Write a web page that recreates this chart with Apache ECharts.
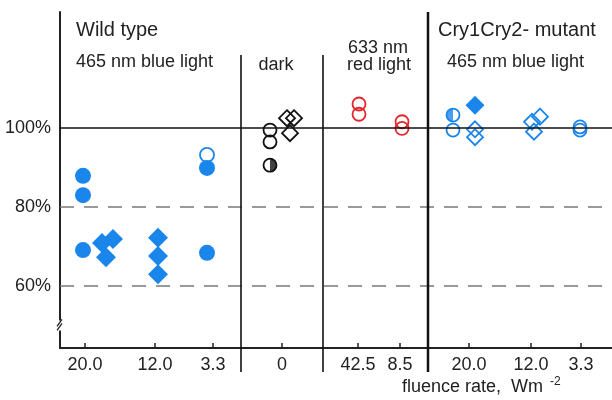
<!DOCTYPE html>
<html>
<head>
<meta charset="utf-8">
<script src="https://cdn.jsdelivr.net/npm/echarts@6/dist/echarts.min.js"></script>
<style>html,body{margin:0;padding:0;background:#fff}#c{width:612px;height:400px}</style>
</head>
<body>
<div id="c"></div>
<script>
// ---- data ----
const xTicks = [25, 95, 153, 222, 298, 340, 409, 471, 521];
const xTickLabels = ['20.0', '12.0', '3.3', '0', '42.5', '8.5', '20.0', '12.0', '3.3'];
const yTickValues = [60, 80, 100];
const refLineValue = 100;
const dashedValues = [80, 60];
const separatorX = [181, 263, 368];
const separatorTop = [118.5, 118.5, 129.4];
const breakValue = 50;

const wtFilledCircleX = [23, 23, 23, 147, 147];
const wtFilledCircleY = [87.9, 83.0, 69.1, 89.9, 68.4];
const wtOpenCircleX = [147];
const wtOpenCircleY = [93.2];
const wtDiamondX = [42, 53, 46, 98, 98, 98];
const wtDiamondY = [70.9, 71.9, 67.3, 72.2, 67.6, 63.0];
const darkCircleX = [210, 210];
const darkCircleY = [99.5, 96.5];
const darkHalfX = [210];
const darkHalfY = [90.6];
const darkDiamondX = [227, 234, 230];
const darkDiamondY = [102.5, 102.5, 98.7];
const redCircleX = [299, 299, 342, 342];
const redCircleY = [106.1, 103.5, 101.6, 99.9];
const mutCircleX = [393, 520, 520];
const mutCircleY = [99.5, 100.3, 99.5];
const mutHalfX = [393];
const mutHalfY = [103.3];
const mutFilledDiamondX = [415];
const mutFilledDiamondY = [105.8];
const mutOpenDiamondX = [415, 415, 472, 480, 474];
const mutOpenDiamondY = [99.7, 97.7, 101.6, 102.9, 99.1];

// ---- styles ----
const BLUE = '#1a86ec', BLACK = '#111', RED = '#e3262b';
const FONT = "'Liberation Sans', Arial, Helvetica, sans-serif";
const zip = (xs, ys) => xs.map((x, i) => [x, ys[i]]);

function openS(name, xs, ys, symbol, size, color) {
  return { name, type: 'scatter', data: zip(xs, ys), symbol, symbolSize: size,
    itemStyle: { color: 'rgba(0,0,0,0)', borderColor: color, borderWidth: 1.8, opacity: 1 },
    emphasis: { disabled: true }, z: 3 };
}
function filledS(name, xs, ys, symbol, size, color) {
  return { name, type: 'scatter', data: zip(xs, ys), symbol, symbolSize: size,
    itemStyle: { color, opacity: 1 }, emphasis: { disabled: true }, z: 4 };
}

const chart = echarts.init(document.getElementById('c'), null, { renderer: 'canvas' });
const labelMap = {};
xTicks.forEach((v, i) => labelMap[v] = xTickLabels[i]);

const series = [
  { type: 'scatter', data: [], silent: true,
    markLine: { silent: true, symbol: 'none', label: { show: false },
      data: [{ yAxis: refLineValue, lineStyle: { color: BLACK, width: 1.5, type: 'solid' } }]
        .concat(dashedValues.map(v => ({ yAxis: v, lineStyle: { color: '#7a7a7a', width: 1.5, type: [14, 10] } }))) } },
  openS('wtOpen', wtOpenCircleX, wtOpenCircleY, 'circle', 14, BLUE),
  filledS('wtFilled', wtFilledCircleX, wtFilledCircleY, 'circle', 16, BLUE),
  filledS('wtDiamond', wtDiamondX, wtDiamondY, 'diamond', 20, BLUE),
  openS('darkCircle', darkCircleX, darkCircleY, 'circle', 13, BLACK),
  openS('darkHalfO', darkHalfX, darkHalfY, 'circle', 13, BLACK),
  { type: 'scatter', data: zip(darkHalfX, darkHalfY), symbol: 'path://M0,0A10,10,0,0,1,0,20Z',
    symbolSize: [6.5, 13], symbolOffset: [3.25, 0], itemStyle: { color: BLACK }, z: 4 },
  openS('darkDiamond', darkDiamondX, darkDiamondY, 'diamond', 16, BLACK),
  openS('red', redCircleX, redCircleY, 'circle', 13, RED),
  openS('mutCircle', mutCircleX, mutCircleY, 'circle', 13, BLUE),
  openS('mutHalfO', mutHalfX, mutHalfY, 'circle', 13, BLUE),
  { type: 'scatter', data: zip(mutHalfX, mutHalfY), symbol: 'path://M10,0A10,10,0,0,0,10,20Z',
    symbolSize: [6.5, 13], symbolOffset: [-3.25, 0], itemStyle: { color: BLUE }, z: 4 },
  filledS('mutFilledDiamond', mutFilledDiamondX, mutFilledDiamondY, 'diamond', 19, BLUE),
  openS('mutOpenDiamond', mutOpenDiamondX, mutOpenDiamondY, 'diamond', 16, BLUE)
];

chart.setOption({
  animation: false,
  backgroundColor: '#fff',
  grid: { left: 60, right: 0, top: 12, bottom: 52, containLabel: false },
  xAxis: {
    type: 'value', min: 0, max: 552, splitLine: { show: false },
    axisLine: { show: true, onZero: false, lineStyle: { color: '#222', width: 2 } },
    axisTick: { show: true, inside: true, length: 5, customValues: xTicks, lineStyle: { color: '#222', width: 1.5 } },
    axisLabel: { show: true, customValues: xTicks, margin: 8, fontSize: 18, fontFamily: FONT, color: '#222',
      formatter: v => labelMap[v] !== undefined ? labelMap[v] : '' }
  },
  yAxis: {
    type: 'value', min: 44.3, max: 129.4, splitLine: { show: false },
    axisLine: { show: true, lineStyle: { color: '#222', width: 2 } },
    axisTick: { show: false },
    axisLabel: { show: true, customValues: yTickValues, margin: 9, fontSize: 18, fontFamily: FONT, color: '#222',
      formatter: v => v + '%' }
  },
  series
});

// decorations computed through the axes
const px = (x, y) => chart.convertToPixel({ gridIndex: 0 }, [x, y]);
const bottomPx = px(0, 44.3)[1];
const graphic = [];
separatorX.forEach((sx, i) => {
  const top = px(sx, separatorTop[i]);
  graphic.push({ type: 'line', shape: { x1: top[0], y1: top[1], x2: top[0], y2: bottomPx + 24 },
    style: { stroke: '#111', lineWidth: i === 2 ? 2.5 : 1.6 }, z: 10 });
});
const bp = px(0, breakValue);
graphic.push({ type: 'rect', shape: { x: bp[0] - 3, y: bp[1] - 5, width: 6, height: 10 }, style: { fill: '#fff' }, z: 11 });
graphic.push({ type: 'line', shape: { x1: bp[0] - 3, y1: bp[1] + 1, x2: bp[0] + 2, y2: bp[1] - 6 }, style: { stroke: '#222', lineWidth: 1.3 }, z: 12 });
graphic.push({ type: 'line', shape: { x1: bp[0] - 3, y1: bp[1] + 5, x2: bp[0] + 2, y2: bp[1] - 2 }, style: { stroke: '#222', lineWidth: 1.3 }, z: 12 });

function txt(text, x, y, size, align) {
  return { type: 'text', x, y, z: 20,
    style: { text, fill: '#222', font: size + 'px ' + FONT, align: align || 'left', verticalAlign: 'middle' } };
}
graphic.push(txt('Wild type', 76, 30, 20));
graphic.push(txt('465 nm blue light', 76, 62, 18));
graphic.push(txt('dark', 276, 65, 18, 'center'));
graphic.push(txt('633 nm', 378, 48, 18, 'center'));
graphic.push(txt('red light', 379, 65, 18, 'center'));
graphic.push(txt('Cry1Cry2- mutant', 438, 30, 20));
graphic.push(txt('465 nm blue light', 447, 62, 18));
graphic.push(txt('fluence rate,  Wm', 402, 387, 18));
graphic.push(txt('-2', 550, 382, 12));
chart.setOption({ graphic });
</script>
</body>
</html>
